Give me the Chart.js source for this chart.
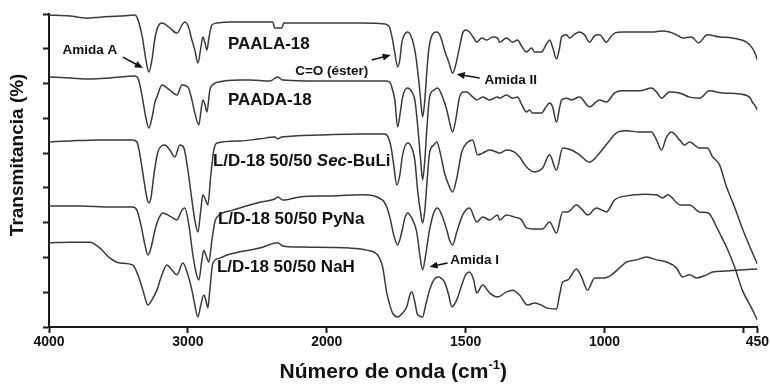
<!DOCTYPE html>
<html>
<head>
<meta charset="utf-8">
<script src="https://cdn.jsdelivr.net/npm/chart.js@4.4.0/dist/chart.umd.min.js"></script>
<style>
  html, body { margin: 0; padding: 0; background: #fff; }
</style>
</head>
<body>
<canvas id="ftir" width="770" height="385"></canvas>
<script>
// FTIR spectra, wavenumber (cm-1) vs. transmittance (arbitrary offset units)
const seriesNames = ['PAALA-18', 'PAADA-18', 'L/D-18 50/50 Sec-BuLi', 'L/D-18 50/50 PyNa', 'L/D-18 50/50 NaH'];

const paalaWn = [4000, 3849, 3727, 3633, 3489, 3381, 3367, 3331, 3302, 3281, 3259, 3237, 3216, 3187, 3130, 3079, 3043, 3022, 2993, 2971, 2950, 2928, 2907, 2892, 2878, 2863, 2849, 2827, 2791, 2698, 2554, 2389, 2374, 2324, 2309, 2194, 1989, 1881, 1791, 1781, 1773, 1763, 1755, 1745, 1737, 1730, 1719, 1709, 1694, 1680, 1669, 1662, 1655, 1647, 1640, 1633, 1622, 1604, 1590, 1576, 1561, 1547, 1536, 1522, 1511, 1500, 1486, 1471, 1460, 1442, 1424, 1403, 1385, 1378, 1353, 1331, 1313, 1299, 1281, 1263, 1252, 1227, 1209, 1198, 1187, 1173, 1162, 1155, 1137, 1126, 1108, 1090, 1072, 1054, 1036, 1018, 993, 978, 964, 935, 874, 827, 795, 766, 741, 719, 687, 662, 630, 586, 540, 489, 468, 457, 450];
const paalaT = [89.7, 89.4, 88.8, 89.1, 89.4, 89.7, 89.1, 84.0, 76.8, 73.3, 76.8, 83.1, 86.3, 87.4, 86.0, 84.5, 86.8, 87.7, 86.0, 82.5, 79.6, 75.9, 80.2, 83.4, 81.9, 79.6, 83.1, 86.8, 87.4, 87.7, 87.7, 87.7, 86.0, 86.0, 87.4, 87.4, 87.4, 87.4, 87.1, 86.8, 86.0, 82.5, 78.8, 74.8, 76.8, 81.7, 84.2, 84.8, 83.1, 78.2, 71.0, 65.3, 60.4, 65.3, 73.3, 79.6, 83.7, 84.8, 83.4, 79.6, 76.2, 73.0, 75.3, 80.5, 84.5, 85.4, 84.8, 83.1, 81.9, 83.1, 82.5, 83.4, 83.1, 81.9, 83.1, 81.9, 82.5, 80.8, 79.1, 80.2, 79.1, 79.1, 81.4, 82.5, 80.5, 77.1, 80.2, 83.4, 84.0, 83.1, 84.2, 84.8, 84.0, 81.9, 83.7, 84.0, 81.9, 83.4, 84.5, 84.8, 84.8, 84.8, 85.1, 84.8, 84.0, 83.1, 83.4, 81.7, 84.0, 83.4, 83.1, 81.9, 80.2, 78.5, 76.8];

const paadaWn = [4000, 3849, 3705, 3561, 3381, 3360, 3331, 3302, 3281, 3259, 3237, 3223, 3187, 3130, 3079, 3043, 3000, 2971, 2950, 2921, 2907, 2892, 2878, 2863, 2842, 2813, 2784, 2626, 2554, 2410, 2353, 2317, 1989, 1881, 1791, 1773, 1763, 1755, 1745, 1734, 1727, 1709, 1694, 1683, 1673, 1662, 1655, 1647, 1640, 1630, 1615, 1601, 1586, 1568, 1558, 1547, 1536, 1522, 1507, 1496, 1478, 1460, 1439, 1414, 1385, 1378, 1353, 1331, 1313, 1299, 1281, 1270, 1259, 1227, 1209, 1198, 1187, 1173, 1162, 1155, 1137, 1119, 1090, 1054, 1018, 993, 964, 935, 874, 831, 813, 795, 766, 730, 694, 658, 622, 576, 514, 478, 468, 457, 450];
const paadaT = [71.9, 71.6, 71.3, 71.6, 72.2, 71.6, 66.7, 60.1, 57.2, 60.1, 64.7, 66.1, 69.6, 68.1, 66.7, 69.6, 69.0, 65.3, 61.5, 58.1, 61.8, 65.3, 64.1, 61.8, 68.1, 69.9, 70.4, 71.0, 71.0, 70.7, 71.9, 71.0, 70.7, 70.7, 70.7, 70.4, 68.1, 65.3, 57.5, 62.4, 66.1, 68.7, 67.6, 65.3, 58.1, 48.0, 42.3, 48.0, 56.6, 66.1, 68.1, 68.7, 66.7, 62.4, 58.9, 56.1, 59.5, 66.1, 67.6, 67.6, 66.4, 65.3, 66.1, 65.3, 66.1, 65.8, 66.7, 65.8, 66.1, 64.1, 61.8, 62.4, 61.5, 61.5, 63.5, 64.4, 63.3, 58.9, 63.0, 65.3, 65.8, 65.3, 66.1, 63.3, 65.3, 64.7, 67.3, 67.9, 67.9, 68.7, 67.6, 65.8, 67.6, 67.3, 66.1, 65.8, 67.9, 67.3, 67.0, 66.1, 64.7, 63.5, 62.4];

const secbuliWn = [4000, 3849, 3633, 3396, 3367, 3345, 3317, 3295, 3281, 3266, 3245, 3216, 3166, 3130, 3094, 3058, 3029, 3000, 2971, 2950, 2928, 2907, 2892, 2878, 2856, 2835, 2813, 2791, 2626, 2482, 2374, 2353, 2324, 2050, 1881, 1791, 1781, 1770, 1759, 1748, 1737, 1727, 1709, 1694, 1683, 1673, 1662, 1655, 1647, 1640, 1630, 1615, 1604, 1590, 1576, 1561, 1547, 1532, 1514, 1496, 1475, 1457, 1439, 1414, 1389, 1378, 1353, 1324, 1306, 1281, 1252, 1223, 1198, 1173, 1151, 1119, 1090, 1054, 1018, 989, 957, 921, 874, 831, 813, 795, 777, 759, 730, 712, 694, 658, 630, 611, 586, 561, 532, 507, 478, 450];
const secbuliT = [53.2, 53.5, 53.8, 53.8, 53.2, 49.5, 42.3, 37.1, 35.7, 37.1, 43.7, 50.3, 52.3, 50.9, 48.9, 52.3, 51.5, 45.1, 36.5, 30.8, 27.3, 33.6, 38.0, 37.1, 35.1, 43.7, 50.9, 52.9, 53.5, 54.1, 54.6, 54.1, 54.6, 55.2, 55.5, 55.5, 54.9, 52.3, 46.6, 40.8, 43.7, 49.5, 52.9, 51.5, 48.0, 39.4, 32.8, 29.9, 33.6, 40.8, 50.0, 52.3, 53.2, 49.5, 44.3, 40.8, 38.8, 42.8, 50.3, 52.9, 53.8, 49.5, 50.0, 50.9, 50.3, 50.0, 50.9, 50.3, 48.9, 46.0, 44.6, 45.7, 49.5, 45.1, 51.5, 50.9, 49.5, 47.4, 50.0, 52.9, 55.8, 56.4, 56.1, 56.1, 53.8, 50.9, 54.6, 56.1, 53.8, 52.3, 53.2, 51.5, 51.5, 48.9, 46.6, 40.3, 34.5, 29.0, 23.3, 18.1];

const pynaWn = [4000, 3777, 3561, 3396, 3367, 3338, 3309, 3288, 3266, 3237, 3209, 3180, 3130, 3079, 3043, 3022, 2993, 2964, 2942, 2921, 2899, 2885, 2871, 2849, 2827, 2806, 2791, 2676, 2554, 2482, 2374, 2353, 2317, 2194, 1989, 1871, 1799, 1784, 1773, 1759, 1745, 1730, 1719, 1709, 1694, 1676, 1665, 1655, 1644, 1630, 1615, 1601, 1586, 1568, 1558, 1547, 1532, 1514, 1500, 1486, 1460, 1439, 1414, 1385, 1378, 1353, 1324, 1299, 1281, 1259, 1223, 1198, 1173, 1151, 1133, 1101, 1079, 1061, 1029, 993, 964, 921, 856, 813, 791, 773, 727, 694, 658, 626, 597, 579, 561, 532, 504, 471, 450];
const pynaT = [34.8, 34.8, 34.5, 34.5, 33.6, 29.3, 23.6, 20.7, 22.7, 27.9, 31.3, 32.8, 31.9, 30.8, 33.6, 34.2, 29.3, 20.7, 15.8, 13.5, 19.3, 22.1, 20.7, 18.7, 25.0, 30.2, 31.6, 33.6, 35.1, 35.9, 36.8, 37.4, 36.5, 37.4, 37.7, 38.0, 36.5, 34.5, 31.6, 26.5, 23.6, 27.3, 31.3, 32.8, 31.3, 27.3, 20.7, 16.4, 20.7, 27.9, 32.8, 34.2, 32.2, 27.9, 25.0, 23.6, 27.3, 31.6, 33.6, 34.2, 30.2, 31.6, 30.8, 32.2, 30.8, 32.2, 31.6, 30.8, 28.5, 28.2, 28.2, 30.2, 27.0, 33.1, 33.1, 35.1, 33.6, 32.2, 34.2, 33.1, 36.5, 37.7, 38.2, 38.0, 37.1, 38.0, 35.1, 35.1, 33.1, 32.8, 28.8, 25.9, 23.0, 17.3, 10.6, 5.5, 2.0];

const nahWn = [4000, 3849, 3705, 3633, 3561, 3489, 3396, 3360, 3324, 3288, 3259, 3223, 3187, 3151, 3115, 3079, 3036, 3000, 2971, 2950, 2928, 2907, 2885, 2871, 2856, 2842, 2820, 2770, 2719, 2482, 2353, 2317, 2194, 1917, 1856, 1817, 1799, 1784, 1773, 1763, 1745, 1727, 1712, 1701, 1694, 1683, 1673, 1655, 1644, 1630, 1615, 1601, 1576, 1561, 1550, 1532, 1514, 1500, 1486, 1471, 1460, 1439, 1414, 1385, 1353, 1331, 1306, 1277, 1252, 1227, 1209, 1173, 1162, 1151, 1133, 1101, 1083, 1061, 1036, 1000, 975, 946, 921, 885, 849, 813, 777, 741, 719, 694, 669, 633, 611, 561, 514, 450];
const nahT = [24.2, 24.4, 24.4, 22.7, 19.8, 18.4, 17.8, 15.0, 10.6, 6.3, 7.8, 10.6, 15.0, 17.8, 16.4, 15.0, 18.4, 15.0, 10.6, 6.3, 2.9, 6.3, 9.2, 7.8, 5.5, 10.6, 18.4, 19.8, 20.7, 22.7, 24.2, 23.3, 23.0, 22.7, 22.1, 20.7, 17.3, 9.8, 6.3, 4.0, 2.9, 4.0, 5.8, 9.2, 10.1, 7.2, 3.5, 2.9, 6.3, 10.6, 13.5, 14.4, 12.9, 9.2, 5.8, 7.8, 12.1, 15.0, 15.8, 13.5, 9.8, 12.1, 9.8, 8.6, 10.1, 10.6, 9.2, 6.3, 6.9, 6.3, 5.5, 5.2, 9.2, 12.9, 13.5, 16.7, 14.4, 10.6, 14.1, 14.1, 15.0, 17.0, 18.7, 19.3, 20.1, 19.3, 18.7, 17.0, 14.4, 15.0, 14.1, 15.0, 15.8, 16.1, 16.4, 16.7];

const tickWavenumbers = [4000, 3000, 2000, 1500, 1000, 500, 450];
const tickLabels = ['4000', '3000', '2000', '1500', '1000', '', '450'];

// where each spectrum name sits (wavenumber, transmittance)
const nameSpots = [[2712, 81.4], [2712, 65.3], [2820, 47.7], [2784, 31.0], [2791, 17.3]];
// band annotations: text centre, arrow start, arrow tip
const bandNotes = [
  { text: 'Amida A', at: [3705, 79.6], from: [3468, 77.6], to: [3324, 74.5] },
  { text: 'C=O (éster)', at: [1982, 73.6], from: [1838, 76.8], to: [1770, 78.2] },
  { text: 'Amida II', at: [1338, 71.0], from: [1450, 71.6], to: [1532, 72.7] },
  { text: 'Amida I', at: [1468, 19.3], from: [1565, 18.4], to: [1630, 17.3] }
];

const FONT = '"Liberation Sans", Arial, sans-serif';
const INK = '#111';
const AXIS = '#1a1a1a';
const TRACE = '#3a3a3a';

// the instrument axis changes scale at 2000 cm-1 (twice as wide below it)
const toU = w => w >= 2000 ? (4000 - w) / 1000 : 2 + (2000 - w) / 500;
const pairs = (wn, t) => wn.map((w, i) => ({ x: toU(w), y: t[i] }));

const spectra = [
  pairs(paalaWn, paalaT),
  pairs(paadaWn, paadaT),
  pairs(secbuliWn, secbuliT),
  pairs(pynaWn, pynaT),
  pairs(nahWn, nahT)
];

function arrow(ctx, x1, y1, x2, y2) {
  const a = Math.atan2(y2 - y1, x2 - x1);
  ctx.beginPath();
  ctx.moveTo(x1, y1);
  ctx.lineTo(x2 - 5 * Math.cos(a), y2 - 5 * Math.sin(a));
  ctx.stroke();
  ctx.beginPath();
  ctx.moveTo(x2, y2);
  ctx.lineTo(x2 - 8 * Math.cos(a) + 3.5 * Math.sin(a), y2 - 8 * Math.sin(a) - 3.5 * Math.cos(a));
  ctx.lineTo(x2 - 8 * Math.cos(a) - 3.5 * Math.sin(a), y2 - 8 * Math.sin(a) + 3.5 * Math.cos(a));
  ctx.closePath();
  ctx.fill();
}

const annotate = {
  id: 'annotate',
  afterDraw(chart) {
    const { ctx, chartArea: a, scales: { x, y } } = chart;
    const px = w => x.getPixelForValue(toU(w));
    const py = v => y.getPixelForValue(v);
    ctx.save();
    ctx.fillStyle = INK;
    ctx.strokeStyle = INK;
    ctx.lineWidth = 1.6;
    ctx.textBaseline = 'middle';

    // spectrum names, "Sec" in italics
    ctx.textAlign = 'left';
    seriesNames.forEach((name, i) => {
      let cx = px(nameSpots[i][0]);
      const cy = py(nameSpots[i][1]);
      name.split(/(Sec)/).filter(Boolean).forEach(part => {
        ctx.font = (part === 'Sec' ? 'italic ' : '') + 'bold 17px ' + FONT;
        ctx.fillText(part, cx, cy);
        cx += ctx.measureText(part).width;
      });
    });

    // band labels with arrows
    ctx.font = 'bold 13.5px ' + FONT;
    ctx.textAlign = 'center';
    bandNotes.forEach(n => {
      ctx.fillText(n.text, px(n.at[0]), py(n.at[1]));
      arrow(ctx, px(n.from[0]), py(n.from[1]), px(n.to[0]), py(n.to[1]));
    });

    // y title
    ctx.save();
    ctx.translate(a.left - 31, a.top + (a.bottom - a.top) * 0.45);
    ctx.rotate(-Math.PI / 2);
    ctx.font = 'bold 19px ' + FONT;
    ctx.fillText('Transmitancia (%)', 0, 0);
    ctx.restore();

    // x title with superscript
    const main = 'Número de onda (cm', sup = '-1', tail = ')';
    ctx.font = 'bold 21px ' + FONT;
    const w1 = ctx.measureText(main).width, w3 = ctx.measureText(tail).width;
    ctx.font = 'bold 13px ' + FONT;
    const w2 = ctx.measureText(sup).width;
    let tx = a.left + (a.right - a.left) * 0.486 - (w1 + w2 + w3) / 2;
    const ty = 372;
    ctx.textAlign = 'left';
    ctx.font = 'bold 21px ' + FONT;
    ctx.fillText(main, tx, ty);
    tx += w1;
    ctx.font = 'bold 13px ' + FONT;
    ctx.fillText(sup, tx, ty - 7);
    tx += w2;
    ctx.font = 'bold 21px ' + FONT;
    ctx.fillText(tail, tx, ty);
    ctx.restore();
  }
};

Chart.defaults.font.family = FONT;

new Chart(document.getElementById('ftir'), {
  type: 'line',
  data: {
    datasets: spectra.map((data, i) => ({
      label: seriesNames[i],
      data,
      borderColor: TRACE,
      borderWidth: 1.5,
      pointRadius: 0,
      fill: false,
      cubicInterpolationMode: 'monotone'
    }))
  },
  options: {
    responsive: false,
    animation: false,
    layout: { padding: { top: 14, right: 12, left: 0, bottom: 0 } },
    plugins: { legend: { display: false }, tooltip: { enabled: false } },
    scales: {
      x: {
        type: 'linear',
        min: 0,
        max: toU(450),
        afterBuildTicks: s => { s.ticks = tickWavenumbers.map(w => ({ value: toU(w) })); },
        afterFit: s => { s.height = 58; },
        ticks: {
          autoSkip: false,
          maxRotation: 0,
          padding: 1,
          color: INK,
          font: { size: 14, weight: 'bold' },
          callback: (v, i) => tickLabels[i]
        },
        grid: { drawOnChartArea: false, tickLength: 6, tickWidth: 2, tickColor: AXIS },
        border: { color: AXIS, width: 2 }
      },
      y: {
        min: 0,
        max: 90,
        afterFit: s => { s.width = 49; },
        ticks: { stepSize: 10, display: false },
        grid: { drawOnChartArea: false, tickLength: 6, tickWidth: 2, tickColor: AXIS },
        border: { color: AXIS, width: 2 }
      }
    }
  },
  plugins: [annotate]
});
</script>
</body>
</html>
